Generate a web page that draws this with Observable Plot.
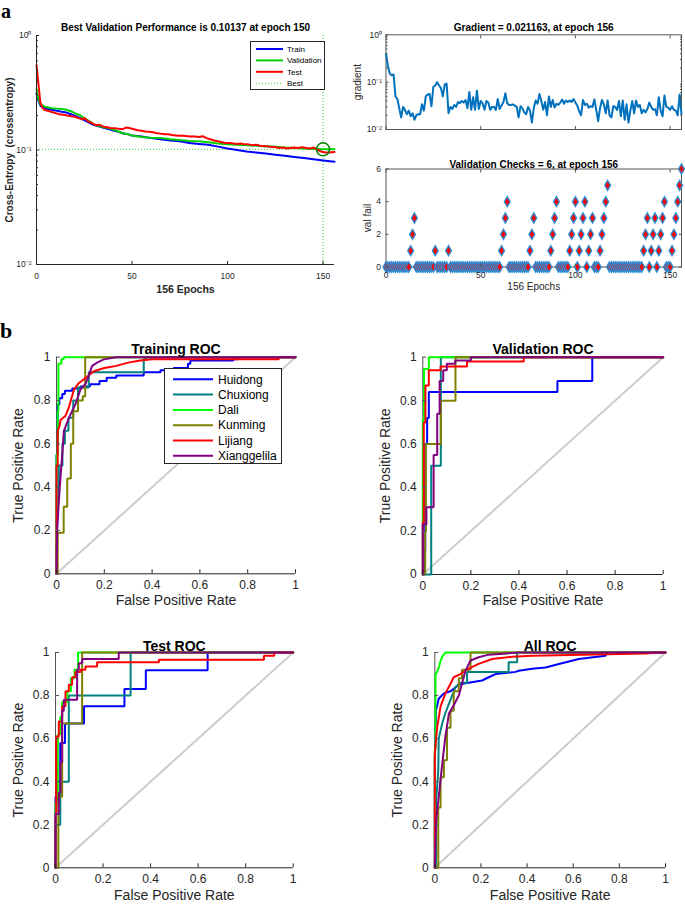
<!DOCTYPE html>
<html><head><meta charset="utf-8">
<script src="https://cdn.jsdelivr.net/npm/d3@7"></script>
<script src="https://cdn.jsdelivr.net/npm/@observablehq/plot@0.6"></script>
<style>
body{margin:0;background:#fff;}
#fig{position:relative;width:685px;height:905px;overflow:hidden;background:#fff;font-family:"Liberation Sans",Arial,sans-serif;color:#262626;}
.plbl{position:absolute;font-family:"Liberation Serif","Times New Roman",serif;font-weight:bold;font-size:22px;color:#000;line-height:14px;}
#la{font-size:20px;line-height:normal;}
</style></head><body><div id="fig"></div>
<script>
// ---------------- DATA ----------------
// (a) performance
const trainEpochs = [0,1,2,3,5,8,10,13,15,18,20,23,25,28,30,33,35,38,40,43,45,48,50,55,60,65,70,75,80,85,90,95,100,105,110,115,120,125,130,135,140,145,150,156];
const trainLoss   = [.31,.27,.245,.236,.229,.225,.221,.216,.214,.205,.199,.19,.182,.172,.165,.16,.156,.152,.148,.144,.14,.137,.134,.131,.127,.124,.121,.119,.115,.113,.111,.107,.103,.1,.097,.095,.093,.091,.089,.087,.085,.083,.081,.079];
const valEpochs   = [0,1,2,3,5,8,10,13,15,18,20,23,25,28,30,33,35,38,40,43,45,48,50,55,60,65,70,75,80,85,90,95,100,105,110,115,120,125,130,135,140,145,150,156];
const valLoss     = [.34,.28,.25,.245,.237,.232,.23,.228,.226,.218,.21,.2,.19,.177,.167,.162,.158,.155,.151,.145,.14,.137,.134,.13,.128,.127,.124,.122,.12,.119,.117,.114,.112,.111,.11,.109,.108,.107,.105,.104,.103,.102,.10137,.1013];
const testEpochs  = [0,1,2,3,4,6,8,10,12,14,16,18,20,22,24,25,27,29,31,33,35,37,39,41,43,45,47,49,51,53,55,57,59,61,63,65,67,69,71,73,75,77,79,81,83,85,87,89,91,93,95,97,99,101,103,105,107,109,111,113,115,117,119,121,123,125,127,129,131,133,135,137,139,141,143,145,147,149,151,153,156];
const testLoss    = [.55,.38,.26,.236,.225,.22,.215,.21,.205,.203,.2,.197,.195,.19,.185,.19,.178,.172,.165,.166,.16,.158,.155,.155,.153,.152,.157,.155,.152,.149,.147,.145,.144,.143,.14,.139,.137,.137,.135,.134,.133,.133,.132,.131,.131,.13,.132,.127,.124,.121,.119,.117,.115,.115,.114,.113,.114,.112,.112,.11,.111,.109,.108,.108,.106,.106,.104,.105,.103,.104,.105,.104,.106,.104,.103,.105,.101,.097,.095,.095,.096];
const bestEpoch = 150, bestPerf = 0.10137;
const perfTitle = "Best Validation Performance is 0.10137 at epoch 150";
const lossSeries = ["Train","Validation","Test","Best"];
const lossColors = ["#0000FF","#00D000","#FF0000","#33CC33"];

// (a) training state: gradient and validation checks, epochs 0..156
const gradient = [.40,.22,.15,.14,.145,.05,.044,.028,.018,.03,.026,.021,.025,.019,.022,.016,.02,.021,.021,.034,.025,.05,.055,.056,.031,.08,.085,.1,.085,.075,.05,.09,.093,
 .022,.03,.027,.033,.03,.038,.036,.04,.037,.042,
 .028,.062,.026,.048,.026,.066,.027,.04,.036,.026,
 .04,.037,.026,.03,.03,.026,.044,.027,.032,.038,
 .058,.036,.033,.033,.034,.032,.03,.018,.031,.028,
 .023,.021,.03,.025,.014,.028,.041,.035,.056,.04,
 .026,.038,.02,.05,.03,.042,.029,.035,.033,.037,
 .043,.035,.041,.038,.041,.038,.044,.037,.032,.024,
 .02,.042,.033,.035,.029,.031,.03,.043,.026,.015,
 .028,.042,.034,.022,.041,.02,.018,.031,.03,.026,
 .04,.019,.041,.016,.034,.014,.025,.04,.022,.041,
 .03,.033,.022,.026,.023,.027,.037,.03,.026,.027,
 .02,.048,.025,.019,.052,.03,.029,.026,.031,.026,
 .025,.02,.055,.021];
const valFail = [0,0,0,0,0,0,0,0,0,0,0,0,0, 1,2,3, 0,0,0,0,0,0,0,0,0,0, 1, 0,0,0,0,0,0, 1,
 0,0,0,0,0,0,0,0,0,0,0,0,0,0,0,0,0,0,0,0,0,0,0,0,0,0,0,
 1,2,3,4, 0,0,0,0,0,0,0,0,0,0,0, 1,2,3, 0,0,0,0,0,0,0,0, 1,2,3,4, 0,0,0,0,0,0,
 1,2,3,4, 0, 1,2,3,4, 0, 1,2,3, 0,0,0, 1,2,3,4,5,
 0,0,0,0,0,0,0,0,0,0,0,0,0,0,0,0,0,0,
 1,2,3, 0, 1,2,3, 0, 1,2,3,4, 0,0,0, 1,2,3,4,5,6];
const gradTitle = "Gradient = 0.021163, at epoch 156";
const checksTitle = "Validation Checks = 6, at epoch 156";

// (b) ROC curves: [false positive rate, true positive rate]
const classes = ["Huidong","Chuxiong","Dali","Kunming","Lijiang","Xianggelila"];
const classColors = ["#0000FF","#008080","#00FF00","#808000","#FF0000","#800080"];
const rocTicks = [0,0.2,0.4,0.6,0.8,1];
const diagonal = [0,1];

const rocTraining = {
 Huidong: [[0,0],[0,0.55],[0.005,0.55],[0.005,0.78],[0.012,0.78],[0.012,0.81],[0.024,0.81],[0.024,0.83],[0.035,0.83],[0.035,0.845],[0.066,0.845],[0.066,0.855],[0.1,0.855],[0.1,0.865],[0.14,0.865],[0.14,0.875],[0.18,0.875],[0.18,0.89],[0.21,0.89],[0.21,0.905],[0.25,0.905],[0.25,0.915],[0.365,0.915],[0.365,0.93],[0.435,0.93],[0.435,0.94],[0.49,0.94],[0.49,0.95],[0.55,0.95],[0.55,0.97],[0.56,0.97],[0.56,0.985],[0.74,0.985],[0.74,0.99],[0.76,0.99],[0.76,1],[1,1]],
 Chuxiong: [[0,0],[0,0.35],[0.01,0.35],[0.01,0.5],[0.025,0.5],[0.025,0.6],[0.035,0.6],[0.035,0.66],[0.05,0.66],[0.05,0.72],[0.07,0.72],[0.07,0.8],[0.09,0.8],[0.09,0.86],[0.135,0.86],[0.135,0.93],[0.365,0.93],[0.365,0.99],[0.37,0.99],[0.37,1],[1,1]],
 Dali: [[0,0],[0,0.55],[0.005,0.55],[0.005,0.75],[0.008,0.75],[0.008,0.97],[0.02,0.97],[0.02,0.99],[0.03,0.99],[0.03,1],[1,1]],
 Kunming: [[0,0],[0.005,0],[0.005,0.19],[0.03,0.19],[0.03,0.31],[0.045,0.31],[0.045,0.44],[0.06,0.44],[0.06,0.6],[0.07,0.6],[0.07,0.75],[0.09,0.75],[0.09,0.8],[0.11,0.8],[0.11,0.82],[0.12,0.82],[0.12,1],[1,1]],
 Lijiang: [[0,0],[0,0.5],[0.005,0.5],[0.005,0.66],[0.012,0.68],[0.017,0.71],[0.038,0.73],[0.052,0.77],[0.073,0.85],[0.093,0.88],[0.128,0.91],[0.156,0.935],[0.2,0.95],[0.25,0.96],[0.3,0.975],[0.35,0.985],[0.4,0.99],[0.93,0.99],[0.93,1],[1,1]],
 Xianggelila: [[0,0],[0.003,0.2],[0.01,0.34],[0.017,0.45],[0.024,0.55],[0.031,0.66],[0.052,0.72],[0.08,0.785],[0.1,0.85],[0.121,0.877],[0.135,0.915],[0.149,0.96],[0.17,0.975],[0.198,0.99],[0.25,1],[1,1]]
};
const rocValidation = {
 Huidong: [[0,0],[0.005,0],[0.005,0.11],[0.01,0.11],[0.01,0.6],[0.018,0.6],[0.018,0.72],[0.025,0.72],[0.025,0.84],[0.56,0.84],[0.56,0.89],[0.705,0.89],[0.705,1],[1,1]],
 Chuxiong: [[0,0],[0.035,0],[0.035,0.5],[0.075,0.5],[0.075,1],[1,1]],
 Dali: [[0,0],[0,0.71],[0.005,0.71],[0.005,0.946],[0.025,0.946],[0.025,1],[1,1]],
 Kunming: [[0,0],[0.01,0],[0.01,0.2],[0.013,0.2],[0.013,0.6],[0.075,0.6],[0.075,0.8],[0.136,0.8],[0.136,1],[1,1]],
 Lijiang: [[0,0],[0,0.24],[0.004,0.24],[0.004,0.7],[0.011,0.7],[0.011,0.87],[0.025,0.87],[0.025,0.94],[0.074,0.94],[0.074,0.957],[0.184,0.957],[0.184,0.98],[0.42,0.98],[0.42,1],[1,1]],
 Xianggelila: [[0,0],[0,0.23],[0.015,0.23],[0.015,0.31],[0.045,0.31],[0.045,0.55],[0.06,0.55],[0.06,0.74],[0.07,0.74],[0.07,0.89],[0.085,0.89],[0.085,0.94],[0.1,0.94],[0.1,0.97],[0.135,0.97],[0.135,0.985],[0.2,0.985],[0.2,1],[1,1]]
};
const rocTest = {
 Huidong: [[0,0],[0,0.33],[0.02,0.33],[0.02,0.58],[0.04,0.58],[0.04,0.67],[0.12,0.67],[0.12,0.75],[0.29,0.75],[0.29,0.83],[0.38,0.83],[0.38,0.917],[0.64,0.917],[0.64,1],[1,1]],
 Chuxiong: [[0,0],[0,0.2],[0.02,0.2],[0.02,0.4],[0.056,0.4],[0.056,0.8],[0.316,0.8],[0.316,1],[1,1]],
 Dali: [[0,0],[0,0.3],[0.01,0.3],[0.01,0.62],[0.02,0.62],[0.02,0.7],[0.028,0.7],[0.028,0.77],[0.05,0.77],[0.05,0.82],[0.065,0.82],[0.065,0.88],[0.08,0.88],[0.08,0.92],[0.095,0.92],[0.095,1],[1,1]],
 Kunming: [[0,0],[0.012,0],[0.012,0.33],[0.028,0.33],[0.028,0.67],[0.112,0.67],[0.112,1],[1,1]],
 Lijiang: [[0,0],[0,0.25],[0.003,0.25],[0.003,0.61],[0.014,0.61],[0.014,0.68],[0.028,0.68],[0.028,0.75],[0.042,0.75],[0.042,0.82],[0.056,0.82],[0.056,0.85],[0.07,0.85],[0.07,0.885],[0.084,0.885],[0.084,0.91],[0.105,0.91],[0.105,0.92],[0.126,0.92],[0.126,0.935],[0.175,0.935],[0.175,0.955],[0.435,0.955],[0.435,0.966],[0.877,0.966],[0.877,0.985],[0.92,0.985],[0.92,1],[1,1]],
 Xianggelila: [[0,0],[0,0.25],[0.014,0.25],[0.014,0.35],[0.021,0.35],[0.021,0.49],[0.028,0.49],[0.028,0.73],[0.035,0.73],[0.035,0.78],[0.091,0.78],[0.091,0.92],[0.098,0.92],[0.098,0.95],[0.112,0.95],[0.112,0.97],[0.266,0.97],[0.266,1],[1,1]]
};
const rocAll = {
 Huidong: [[0,0],[0,0.5],[0.003,0.6],[0.005,0.73],[0.017,0.785],[0.039,0.81],[0.068,0.82],[0.104,0.85],[0.147,0.86],[0.205,0.87],[0.234,0.885],[0.263,0.9],[0.35,0.91],[0.364,0.915],[0.422,0.925],[0.48,0.93],[0.538,0.947],[0.624,0.97],[0.74,0.985],[0.75,1],[1,1]],
 Chuxiong: [[0,0],[0.005,0],[0.005,0.3],[0.015,0.45],[0.017,0.6],[0.032,0.67],[0.046,0.72],[0.068,0.78],[0.09,0.84],[0.111,0.86],[0.14,0.86],[0.14,0.91],[0.32,0.91],[0.32,0.955],[0.357,0.955],[0.357,1],[1,1]],
 Dali: [[0,0],[0,0.55],[0.003,0.55],[0.003,0.9],[0.01,0.91],[0.017,0.93],[0.025,0.96],[0.032,0.98],[0.046,1],[1,1]],
 Kunming: [[0,0],[0.015,0],[0.015,0.28],[0.025,0.28],[0.025,0.42],[0.039,0.42],[0.04,0.5],[0.053,0.5],[0.053,0.65],[0.068,0.65],[0.068,0.73],[0.082,0.73],[0.082,0.82],[0.104,0.82],[0.104,0.88],[0.118,0.88],[0.118,0.92],[0.155,0.92],[0.155,1],[1,1]],
 Lijiang: [[0,0],[0,0.53],[0.01,0.65],[0.025,0.75],[0.046,0.81],[0.068,0.855],[0.082,0.885],[0.111,0.9],[0.147,0.925],[0.19,0.947],[0.249,0.97],[0.335,0.98],[0.422,0.985],[0.913,0.995],[0.97,1],[1,1]],
 Xianggelila: [[0,0],[0.006,0.22],[0.017,0.33],[0.032,0.48],[0.046,0.61],[0.061,0.715],[0.082,0.755],[0.104,0.8],[0.118,0.855],[0.133,0.916],[0.155,0.963],[0.19,0.978],[0.234,0.99],[0.364,1],[1,1]]
};

// ---------------- DRAWING ----------------
const FONT = '"Liberation Sans", Arial, Helvetica, sans-serif';
const INK = "#262626";
const fig = document.getElementById("fig");
function place(node, left, top) {
  node.style.position = "absolute";
  node.style.left = left + "px";
  node.style.top = top + "px";
  fig.appendChild(node);
  return node;
}
const baseStyle = {fontFamily: FONT, color: INK, background: "transparent", overflow: "visible"};
const sup = {1: "10\u2070", 0.1: "10\u207B\u00B9", 0.01: "10\u207B\u00B2"};
const logMajor = [0.01, 0.1, 1];
const logMinor = [0.02,0.03,0.04,0.05,0.06,0.07,0.08,0.09,0.2,0.3,0.4,0.5,0.6,0.7,0.8,0.9];
const epochTicks = [0, 50, 100, 150];
const blank = () => "";
// rotated (-90°) axis label, centred on the frame's left edge, shifted left by dx
const yLabel = (txt, shift, extra) => Plot.text([txt], {text: d => d, frameAnchor: "left", dx: shift, rotate: -90, textAnchor: "middle", lineAnchor: "middle", ...extra});

// ---- performance plot
const perf = Plot.plot({
  width: 345, height: 300, marginLeft: 36, marginRight: 11, marginTop: 35, marginBottom: 36,
  style: {...baseStyle, fontSize: "8.5px"},
  x: {domain: [0, 156], axis: null},
  y: {type: "log", domain: [0.01, 1], axis: null},
  marks: [
    Plot.ruleY([bestPerf], {stroke: lossColors[3], strokeDasharray: "1,2", strokeWidth: 1}),
    Plot.ruleX([bestEpoch], {stroke: lossColors[3], strokeDasharray: "1,2", strokeWidth: 1}),
    Plot.line(trainLoss, {x: (d, i) => trainEpochs[i], y: d => d, stroke: lossColors[0], strokeWidth: 2}),
    Plot.line(valLoss, {x: (d, i) => valEpochs[i], y: d => d, stroke: lossColors[1], strokeWidth: 2}),
    Plot.line(testLoss, {x: (d, i) => testEpochs[i], y: d => d, stroke: lossColors[2], strokeWidth: 2}),
    Plot.dot([bestPerf], {x: () => bestEpoch, y: d => d, r: 6.5, stroke: "#008000", strokeWidth: 1.5, fill: "none"}),
    Plot.ruleX([0], {stroke: INK}),
    Plot.ruleY([0.01], {stroke: INK}),
    Plot.axisX({ticks: epochTicks, tickSize: 0, tickPadding: 8, fontSize: 8.5, label: null, tickFormat: d => d}),
    Plot.axisX({ticks: epochTicks, tickSize: -3, tickFormat: blank, label: null}),
    Plot.axisY({ticks: logMajor, tickSize: 0, tickPadding: 5, fontSize: 8.5, label: null, tickFormat: d => sup[d]}),
    Plot.axisY({ticks: logMajor, tickSize: -3, tickFormat: blank, label: null}),
    Plot.axisY({ticks: logMinor, tickSize: -2, tickFormat: blank, label: null}),
    Plot.text([perfTitle], {text: d => d, frameAnchor: "top", dy: -12, fontWeight: "bold", fontSize: 10, fill: "#000"}),
    Plot.text(["156 Epochs"], {text: d => d, frameAnchor: "bottom", dy: 28, fontWeight: "bold", fontSize: 10.5, fill: INK}),
    yLabel("Cross-Entropy  (crossentropy)", -27, {fontWeight: "bold", fontSize: 10, fill: INK})
  ]
});
place(perf, 0, 0);

// legend builder (names and colours come from the arrays above)
function makeLegend(names, colors, dashed, o) {
  const svg = d3.create("svg").attr("width", o.w).attr("height", o.h)
    .style("font-family", FONT).style("overflow", "visible");
  svg.append("rect").attr("x", 0.5).attr("y", 0.5).attr("width", o.w - 1).attr("height", o.h - 1)
    .attr("fill", "#fff").attr("stroke", INK).attr("stroke-width", 1);
  names.forEach((n, i) => {
    const y = o.y0 + i * o.dy;
    svg.append("line").attr("x1", o.x1).attr("x2", o.x2).attr("y1", y).attr("y2", y)
      .attr("stroke", colors[i]).attr("stroke-width", dashed[i] ? 1 : o.sw)
      .attr("stroke-dasharray", dashed[i] ? "1,2" : null);
    svg.append("text").attr("x", o.tx).attr("y", y).attr("dy", "0.35em")
      .attr("font-size", o.fs).attr("fill", "#000").text(n);
  });
  return svg.node();
}
place(makeLegend(lossSeries, lossColors, [false, false, false, true],
  {w: 75, h: 49, y0: 8, dy: 11.4, x1: 6, x2: 33, tx: 37, fs: 8, sw: 2}), 250, 41);

// ---- gradient plot
const grad = Plot.plot({
  width: 340, height: 150, marginLeft: 40.5, marginRight: 4, marginTop: 34.3, marginBottom: 21,
  style: {...baseStyle, fontSize: "8.5px"},
  x: {domain: [0, 156], axis: null},
  y: {type: "log", domain: [0.01, 1], axis: null},
  marks: [
    Plot.frame({stroke: "#555"}),
    Plot.line(gradient, {x: (d, i) => i, y: d => d, stroke: "#0072BD", strokeWidth: 2}),
    Plot.axisX({ticks: epochTicks, tickSize: -3, tickFormat: blank, label: null, stroke: "#555"}),
    Plot.axisX({ticks: epochTicks, anchor: "top", tickSize: -3, tickFormat: blank, label: null, stroke: "#555"}),
    Plot.axisY({ticks: logMajor, tickSize: 0, tickPadding: 4, fontSize: 8.5, label: null, tickFormat: d => sup[d]}),
    Plot.axisY({ticks: logMajor, tickSize: -3, tickFormat: blank, label: null, stroke: "#555"}),
    Plot.axisY({ticks: logMinor, tickSize: -2, tickFormat: blank, label: null, stroke: "#555"}),
    Plot.axisY({ticks: logMinor, anchor: "right", tickSize: -2, tickFormat: blank, label: null, stroke: "#555"}),
    Plot.text([gradTitle], {text: d => d, frameAnchor: "top", dy: -10.5, fontWeight: "bold", fontSize: 10, fill: "#000"}),
    yLabel("gradient", -28.5, {fontSize: 10, fill: INK})
  ]
});
place(grad, 345, 0);

// ---- validation checks plot
const checks = Plot.plot({
  width: 340, height: 150, marginLeft: 40.5, marginRight: 4, marginTop: 18.5, marginBottom: 33.5,
  style: {...baseStyle, fontSize: "8.5px"},
  x: {domain: [0, 156], axis: null},
  y: {domain: [0, 6], axis: null},
  marks: [
    Plot.frame({stroke: "#555"}),
    Plot.dot(valFail, {x: (d, i) => i, y: d => d, symbol: "diamond", r: 3.1, fill: "#FF0000", stroke: "#2a8fd8", strokeWidth: 1.3}),
    Plot.axisX({ticks: epochTicks, tickSize: 0, tickPadding: 5, fontSize: 8.5, label: null, tickFormat: d => d}),
    Plot.axisX({ticks: epochTicks, tickSize: -3, tickFormat: blank, label: null, stroke: "#555"}),
    Plot.axisX({ticks: epochTicks, anchor: "top", tickSize: -3, tickFormat: blank, label: null, stroke: "#555"}),
    Plot.axisY({ticks: [0, 2, 4, 6], tickSize: 0, tickPadding: 5, fontSize: 8.5, label: null, tickFormat: d => d}),
    Plot.axisY({ticks: [0, 2, 4, 6], tickSize: -3, tickFormat: blank, label: null, stroke: "#555"}),
    Plot.axisY({ticks: [0, 2, 4, 6], anchor: "right", tickSize: -3, tickFormat: blank, label: null, stroke: "#555"}),
    Plot.text([checksTitle], {text: d => d, frameAnchor: "top", dy: -8, fontWeight: "bold", fontSize: 10, fill: "#000"}),
    Plot.text(["156 Epochs"], {text: d => d, frameAnchor: "bottom", dy: 22.5, fontSize: 10, fill: INK}),
    yLabel("val fail", -18, {fontSize: 10, fill: INK})
  ]
});
place(checks, 345, 150);

// ---- ROC panels
function rocPlot(title, data, o) {
  return Plot.plot({
    width: o.w, height: o.h, marginLeft: o.ml, marginRight: o.mr, marginTop: o.mt, marginBottom: o.mb,
    style: {...baseStyle, fontSize: "12px"},
    x: {domain: [0, 1], axis: null},
    y: {domain: [0, 1], axis: null},
    marks: [
      Plot.line(diagonal, {x: d => d, y: d => d, stroke: "#cccccc", strokeWidth: 2}),
      Plot.ruleX([0], {stroke: "#555"}),
      Plot.ruleY([0], {stroke: INK}),
      ...classes.map((c, i) => Plot.line(data[c], {x: d => d[0], y: d => d[1], stroke: classColors[i], strokeWidth: 2, strokeLinejoin: "miter"})),
      Plot.axisX({ticks: rocTicks, tickSize: 0, tickPadding: 7, fontSize: 12, label: null, tickFormat: d => String(d)}),
      Plot.axisX({ticks: rocTicks, tickSize: -4, tickFormat: blank, label: null, stroke: INK}),
      Plot.axisY({ticks: rocTicks, tickSize: 0, tickPadding: 6, fontSize: 12, label: null, tickFormat: d => String(d)}),
      Plot.axisY({ticks: rocTicks, tickSize: -4, tickFormat: blank, label: null, stroke: "#555"}),
      Plot.text([title], {text: d => d, frameAnchor: "top", dy: o.tdy, fontWeight: "bold", fontSize: 14, fill: "#000"}),
      Plot.text(["False Positive Rate"], {text: d => d, frameAnchor: "bottom", dy: o.xdy, fontSize: 14, fill: INK}),
      yLabel("True Positive Rate", o.ydx, {fontSize: 14, fill: INK})
    ]
  });
}
place(rocPlot("Training ROC", rocTraining, {w: 345, h: 300, ml: 56, mr: 50, mt: 46.7, mb: 36.7, tdy: -12.7, xdy: 31, ydx: -38}), 0, 310);
place(rocPlot("Validation ROC", rocValidation, {w: 340, h: 300, ml: 77.3, mr: 22.3, mt: 46.7, mb: 36, tdy: -12.7, xdy: 30.5, ydx: -37}), 345, 310);
place(rocPlot("Test ROC", rocTest, {w: 345, h: 295, ml: 55, mr: 52.3, mt: 42, mb: 37.7, tdy: -11, xdy: 31.7, ydx: -37}), 0, 610);
place(rocPlot("All ROC", rocAll, {w: 340, h: 295, ml: 89.3, mr: 20, mt: 42, mb: 37.7, tdy: -11, xdy: 31.7, ydx: -37.6}), 345, 610);

// legend of Training ROC
place(makeLegend(classes, classColors, classes.map(() => false),
  {w: 118, h: 96, y0: 11.3, dy: 15.3, x1: 9, x2: 49, tx: 54, fs: 12, sw: 2}), 164, 368);

// panel letters
const la = document.createElement("div"); la.className = "plbl"; la.id = "la"; la.textContent = "a"; place(la, 1, 0);
const lb = document.createElement("div"); lb.className = "plbl"; lb.textContent = "b"; place(lb, 0, 324);
</script></body></html>
